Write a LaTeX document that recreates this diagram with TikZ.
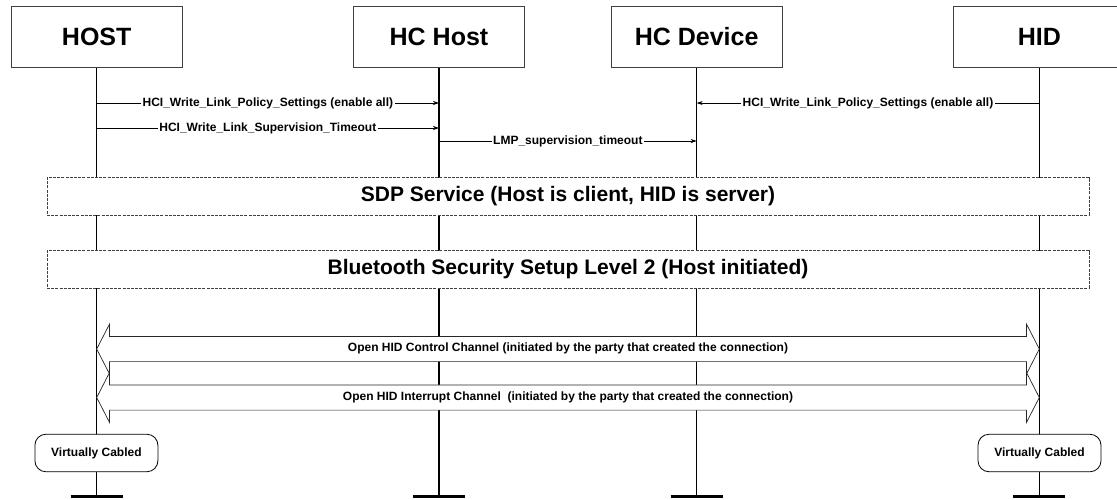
\documentclass[tikz,border=0pt]{standalone}
\usepackage{fontspec}
\setmainfont{Liberation Sans}
\usetikzlibrary{arrows.meta,shapes.arrows}
\begin{document}
\begin{tikzpicture}[x=1pt,y=-1pt,
  head/.style={draw=black!75, line width=0.8pt, minimum width=171pt, minimum height=61pt,
    fill=white, font=\fontsize{25}{30}\selectfont\bfseries},
  life/.style={line width=1.4pt},
  endbar/.style={line width=3pt},
  msg/.style={line width=0.7pt, -{Stealth[length=6pt,width=4pt]}},
  lbl/.style={fill=white, inner sep=1.5pt, font=\fontsize{12}{14}\selectfont\bfseries},
  phase/.style={draw=black!75, dash pattern=on 3pt off 1.2pt, line width=0.7pt, fill=white,
    minimum width=1042pt, minimum height=37.5pt, font=\fontsize{21}{25}\selectfont\bfseries},
  chan/.style={double arrow, draw=black!85, line width=0.7pt, fill=white,
    minimum height=942.6pt, minimum width=49pt, double arrow head extend=12.25pt,
    double arrow tip angle=125.6, inner xsep=0pt, inner ysep=7pt, text height=8pt, text depth=2.5pt,
    font=\fontsize{12}{14}\selectfont\bfseries},
  vcbox/.style={draw, rounded corners=11pt, line width=0.8pt, minimum width=123pt,
    minimum height=37.5pt, fill=white, font=\fontsize{12}{14}\selectfont\bfseries}
]
\useasboundingbox (0,0) rectangle (1117,499);
% lifeline ends
\coordinate (hostend) at (96.7,496);
\coordinate (hchend) at (439,496);
\coordinate (hcdend) at (696.7,496);
\coordinate (hidend) at (1039.3,496);
% heads
\node[head] (host) at (96.7,37) {HOST};
\node[head] (hch) at (439,37) {HC Host};
\node[head] (hcd) at (696.7,37) {HC Device};
\node[head] (hid) at (1039.3,37) {HID};
% lifelines
\foreach \n in {host,hch,hcd,hid}{
  \draw[life] (\n.south) -- (\n end);
  \draw[endbar] ([xshift=-26pt]\n end) -- ([xshift=26pt]\n end);
}
% message anchor points
\coordinate (m1a) at (96.7,103);
\coordinate (m1b) at (439,103);
\coordinate (m2a) at (96.7,128);
\coordinate (m2b) at (439,128);
\coordinate (m3a) at (439,141);
\coordinate (m3b) at (696.7,141);
\coordinate (m4a) at (1039.3,103);
\coordinate (m4b) at (696.7,103);
\draw[msg] (m1a) -- node[lbl]{HCI\_Write\_Link\_Policy\_Settings (enable all)} (m1b);
\draw[msg] (m2a) -- node[lbl]{HCI\_Write\_Link\_Supervision\_Timeout} (m2b);
\draw[msg] (m3a) -- node[lbl]{LMP\_supervision\_timeout} (m3b);
\draw[msg] (m4a) -- node[lbl]{HCI\_Write\_Link\_Policy\_Settings (enable all)} (m4b);
% phases
\node[phase] (sdp) at (568,196.25) {SDP Service (Host is client, HID is server)};
\node[phase] (sec) at (568,269.25) {Bluetooth Security Setup Level 2 (Host initiated)};
% channels
\node[chan] (ctl) at (568,349) {Open HID Control Channel (initiated by the party that created the connection)};
\node[chan] (intr) at (568,397.5) {Open HID Interrupt Channel\ \ (initiated by the party that created the connection)};
% virtually cabled
\node[vcbox] (vc1) at (96.4,453) {Virtually Cabled};
\node[vcbox] (vc2) at (1039.5,453) {Virtually Cabled};
\end{tikzpicture}
\end{document}
